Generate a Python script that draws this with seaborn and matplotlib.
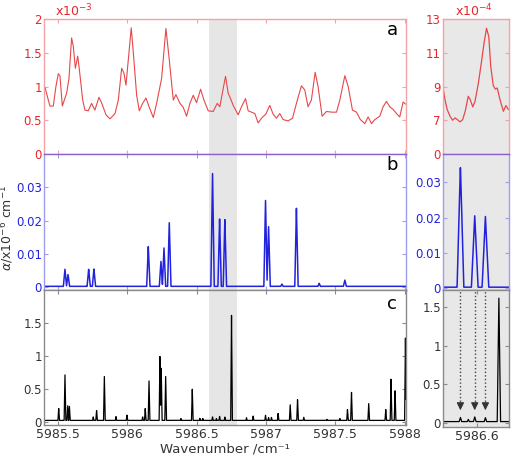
import numpy as np
import pandas as pd
import matplotlib; matplotlib.use('Agg')
import matplotlib.pyplot as plt
import seaborn as sns

sns.set_style('ticks')
plt.rcParams['font.family'] = ['DejaVu Sans']
plt.rcParams['mathtext.fontset'] = 'dejavusans'

# panel a: continuous trace (x10^-3)
a_x = [5985.407, 5985.431, 5985.443, 5985.467, 5985.486, 5985.503, 5985.515, 5985.532, 5985.563, 5985.580,
       5985.599, 5985.611, 5985.626, 5985.643, 5985.655, 5985.679, 5985.695, 5985.719, 5985.743, 5985.767,
       5985.796, 5985.815, 5985.847, 5985.876, 5985.912, 5985.936, 5985.960, 5985.976, 5985.991, 5986.008,
       5986.029, 5986.044, 5986.068, 5986.087, 5986.111, 5986.135, 5986.159, 5986.188, 5986.212, 5986.248,
       5986.279, 5986.303, 5986.332, 5986.351, 5986.380, 5986.404, 5986.428, 5986.452, 5986.476, 5986.500,
       5986.529, 5986.553, 5986.584, 5986.620, 5986.649, 5986.668, 5986.692, 5986.709, 5986.728, 5986.745,
       5986.764, 5986.800, 5986.824, 5986.853, 5986.872, 5986.896, 5986.920, 5986.944, 5986.968, 5986.999,
       5987.028, 5987.052, 5987.076, 5987.100, 5987.124, 5987.160, 5987.192, 5987.220, 5987.256, 5987.280,
       5987.304, 5987.328, 5987.355, 5987.376, 5987.405, 5987.437, 5987.473, 5987.509, 5987.533, 5987.569,
       5987.593, 5987.624, 5987.653, 5987.681, 5987.713, 5987.737, 5987.761, 5987.785, 5987.821, 5987.845,
       5987.869, 5987.893, 5987.917, 5987.941, 5987.965, 5987.989, 5988.006]
a_y = [0.99, 0.80, 0.71, 0.71, 1.00, 1.19, 1.16, 0.71, 0.90, 1.12,
       1.72, 1.60, 1.27, 1.45, 1.25, 0.80, 0.65, 0.64, 0.75, 0.65,
       0.84, 0.76, 0.58, 0.52, 0.60, 0.80, 1.27, 1.20, 1.02, 1.40,
       1.87, 1.50, 0.87, 0.64, 0.75, 0.83, 0.69, 0.54, 0.75, 1.12,
       1.86, 1.40, 0.80, 0.88, 0.75, 0.69, 0.56, 0.75, 0.87, 0.76,
       0.96, 0.80, 0.64, 0.63, 0.75, 0.70, 0.97, 1.15, 0.90, 0.82,
       0.72, 0.58, 0.70, 0.82, 0.64, 0.62, 0.60, 0.46, 0.53, 0.59,
       0.72, 0.59, 0.53, 0.60, 0.51, 0.49, 0.53, 0.75, 1.01, 0.95,
       0.70, 0.80, 1.21, 1.00, 0.56, 0.63, 0.62, 0.62, 0.80, 1.16,
       1.00, 0.65, 0.62, 0.51, 0.45, 0.55, 0.45, 0.51, 0.56, 0.70,
       0.78, 0.70, 0.66, 0.60, 0.55, 0.77, 0.74]

# zoomed panel a (x10^-4)
az_x = [5986.553, 5986.560, 5986.568, 5986.578, 5986.587, 5986.596, 5986.604, 5986.614, 5986.623, 5986.632,
        5986.643, 5986.650, 5986.659, 5986.667, 5986.679, 5986.691, 5986.699, 5986.708, 5986.716, 5986.723,
        5986.732, 5986.739, 5986.746, 5986.756, 5986.768, 5986.777, 5986.786]
az_y = [8.97, 8.22, 7.63, 7.24, 7.00, 7.14, 7.04, 6.90, 7.04, 7.53,
        8.42, 8.22, 7.79, 8.12, 9.20, 10.58, 11.56, 12.45, 11.96, 10.19,
        9.05, 8.85, 8.91, 8.22, 7.53, 7.87, 7.63]

# panel b: line positions / peak heights
b_pos = [5985.551, 5985.573, 5985.722, 5985.760, 5986.152, 5986.243, 5986.265, 5986.303, 5986.615,
         5986.666, 5986.704, 5986.997, 5987.019, 5987.115, 5987.220, 5987.384, 5987.569]
b_hgt = [0.0055, 0.0039, 0.0054, 0.0055, 0.0122, 0.0079, 0.0120, 0.0197, 0.0347,
         0.0205, 0.0203, 0.0265, 0.0185, 0.0010, 0.0237, 0.0012, 0.0022]

# panel c: line positions / peak heights
c_pos = [5985.506, 5985.551, 5985.571, 5985.583, 5985.755, 5985.779, 5985.835, 5985.919, 5985.998, 5986.111,
         5986.130, 5986.157, 5986.236, 5986.245, 5986.277, 5986.387, 5986.469, 5986.524, 5986.545, 5986.615,
         5986.643, 5986.666, 5986.704, 5986.752, 5986.860, 5986.908, 5986.997, 5987.019, 5987.040, 5987.088,
         5987.175, 5987.228, 5987.273, 5987.440, 5987.533, 5987.588, 5987.617, 5987.741, 5987.864, 5987.902,
         5987.931, 5988.006]
c_hgt = [0.20, 0.735, 0.25, 0.24, 0.075, 0.175, 0.71, 0.08, 0.10, 0.075,
         0.20, 0.64, 0.99, 0.84, 0.71, 0.05, 0.51, 0.05, 0.05, 0.075,
         0.05, 0.08, 0.07, 1.615, 0.06, 0.085, 0.10, 0.065, 0.065, 0.125,
         0.265, 0.335, 0.07, 0.035, 0.05, 0.185, 0.46, 0.285, 0.185, 0.645,
         0.485, 1.27]

arrow_x = [5986.615, 5986.666, 5986.704]
x_ticks = [5985.5, 5986, 5986.5, 5987, 5987.5, 5988]
x_ticklabels = ['5985.5', '5986', '5986.5', '5987', '5987.5', '5988']
band = (5986.591, 5986.788)
zoom_lim = (5986.553, 5986.788)

RED, BLUE, DARK = '#e5262a', '#2222dd', '#333333'
PINK, LBLUE, GREY = '#f3a3a6', '#9e9ef0', '#8a8a8a'


def stick_trace(pos, hgt, hw, base):
    # narrow triangular line shape for each listed peak
    x = np.arange(5985.40, 5988.012, 0.0004)
    y = np.full_like(x, base)
    for p, h in zip(pos, hgt):
        y = np.maximum(y, h * np.clip(1 - np.abs(x - p) / hw, 0, None))
    return pd.DataFrame({'x': x, 'y': y})


df_a = pd.DataFrame({'x': a_x, 'y': a_y})
df_az = pd.DataFrame({'x': az_x, 'y': az_y})
df_b = stick_trace(b_pos, b_hgt, 0.012, 0.0003)
df_c = stick_trace(c_pos, c_hgt, 0.006, 0.02)

fig = plt.figure(figsize=(5.12, 4.57), dpi=100)
W, H = 512, 457


def box(x0, y0, x1, y1):
    return [x0 / W, 1 - y1 / H, (x1 - x0) / W, (y1 - y0) / H]


ax_a = fig.add_axes(box(44, 19, 406, 154))
ax_b = fig.add_axes(box(44, 154, 406, 290))
ax_c = fig.add_axes(box(44, 290, 406, 425))
ax_ar = fig.add_axes(box(443, 19, 509, 154))
ax_br = fig.add_axes(box(443, 154, 509, 290))
ax_cr = fig.add_axes(box(443, 290, 509, 427))

for ax in (ax_a, ax_b, ax_c):
    ax.axvspan(*band, color='#e6e6e6', lw=0, zorder=0)
    ax.set_xlim(5985.40, 5988.01)
    ax.set_xticks(x_ticks)
for ax in (ax_ar, ax_br, ax_cr):
    ax.set_facecolor('#e8e8e8')
    ax.set_xlim(*zoom_lim)

sns.lineplot(data=df_a, x='x', y='y', ax=ax_a, color='#e8474a', lw=0.8, estimator=None, sort=False)
sns.lineplot(data=df_az, x='x', y='y', ax=ax_ar, color='#e8474a', lw=0.9, estimator=None, sort=False)
sns.lineplot(data=df_b, x='x', y='y', ax=ax_b, color=BLUE, lw=1.1, estimator=None, sort=False)
sns.lineplot(data=df_b, x='x', y='y', ax=ax_br, color=BLUE, lw=1.1, estimator=None, sort=False)
sns.lineplot(data=df_c, x='x', y='y', ax=ax_c, color='black', lw=0.9, estimator=None, sort=False)
sns.lineplot(data=df_c, x='x', y='y', ax=ax_cr, color='black', lw=0.9, estimator=None, sort=False)

# y axes
ax_a.set_ylim(0, 2)
ax_a.set_yticks([0, 0.5, 1, 1.5, 2], ['0', '0.5', '1', '1.5', '2'])
ax_ar.set_ylim(5, 13)
ax_ar.set_yticks([5, 7, 9, 11, 13], ['0', '7', '9', '11', '13'])
ax_b.set_ylim(-0.0008, 0.04)
ax_b.set_yticks([0, 0.01, 0.02, 0.03], ['0', '0.01', '0.02', '0.03'])
ax_br.set_ylim(-0.0005, 0.038)
ax_br.set_yticks([0, 0.01, 0.02, 0.03], ['0', '0.01', '0.02', '0.03'])
ax_c.set_ylim(-0.05, 2.0)
ax_c.set_yticks([0, 0.5, 1, 1.5], ['0', '0.5', '1', '1.5'])
ax_cr.set_ylim(-0.05, 1.72)
ax_cr.set_yticks([0, 0.5, 1, 1.5], ['0', '0.5', '1', '1.5'])

ax_c.set_xticklabels(x_ticklabels)
ax_cr.set_xticks([5986.674], ['5986.6'])
ax_ar.set_xticks([])
ax_br.set_xticks([])

for ax, lc, sc in [(ax_a, RED, PINK), (ax_ar, RED, PINK), (ax_b, BLUE, LBLUE),
                   (ax_br, BLUE, LBLUE), (ax_c, DARK, GREY), (ax_cr, DARK, GREY)]:
    ax.set_xlabel(''); ax.set_ylabel('')
    for s in ax.spines.values():
        s.set_color(sc); s.set_linewidth(1.0)
    ax.tick_params(direction='in', length=3, width=0.8, color=sc, labelcolor=lc,
                   labelsize=8.5, top=True, right=True, pad=1.5)
    ax.tick_params(axis='x', pad=2.5, labelcolor=DARK, labelsize=9)
for ax in (ax_a, ax_b, ax_ar, ax_br):
    ax.tick_params(labelbottom=False)
for ax in (ax_b, ax_br):
    ax.spines['top'].set_color('#8a5fd2')
    ax.spines['bottom'].set_color('#5a5ae6')
    ax.spines['top'].set_zorder(5)

# dotted arrows in zoomed panel c
ax_cr.vlines(arrow_x, 0.24, 1.72, colors='#444444', linestyles=(0, (1, 1.6)), lw=1.0)
for xa in arrow_x:
    ax_cr.annotate('', xy=(xa, 0.13), xytext=(xa, 0.27),
                   arrowprops=dict(arrowstyle='-|>,head_width=0.22,head_length=0.45',
                                   color='#333333', lw=0.8))

for ax, lab, yy in [(ax_a, 'a', 0.92), (ax_b, 'b', 0.92), (ax_c, 'c', 0.895)]:
    ax.text(0.962, yy, lab, transform=ax.transAxes, fontsize=13, ha='center', va='center', color='black')

fig.text(55 / W, 1 - 11 / H, r'x10$^{-3}$', color=RED, fontsize=9, ha='left', va='center')
fig.text(455 / W, 1 - 11 / H, r'x10$^{-4}$', color=RED, fontsize=9, ha='left', va='center')
fig.text(7.5 / W, 1 - 228 / H, r'$\alpha$/x10$^{-6}$ cm$^{-1}$', rotation=90, color=DARK,
         fontsize=9, ha='center', va='center')
fig.text(225 / W, 1.5 / H, 'Wavenumber /cm\u207b\u00b9', color=DARK, fontsize=9.5, ha='center', va='bottom')

fig.savefig('out.png', dpi=100)
plt.close(fig)
